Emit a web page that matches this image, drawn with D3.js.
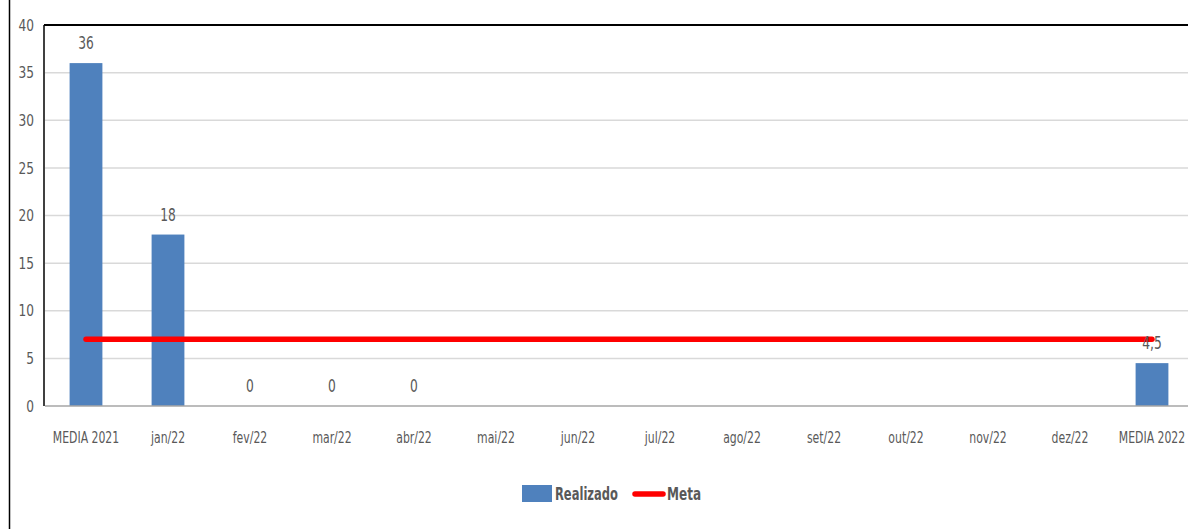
<!DOCTYPE html>
<html><head><meta charset="utf-8">
<script src="https://cdn.jsdelivr.net/npm/d3@7"></script>
<style>
html,body{margin:0;padding:0;background:#fff;}
text{font-family:"DejaVu Sans","Liberation Sans",sans-serif;fill:#595959;}
</style></head>
<body>
<svg id="c" width="1188" height="529"></svg>
<script>
const categories = ["MEDIA 2021","jan/22","fev/22","mar/22","abr/22","mai/22","jun/22","jul/22","ago/22","set/22","out/22","nov/22","dez/22","MEDIA 2022"];
const realizado = [36,18,0,0,0,null,null,null,null,null,null,null,null,4.5];
const meta = [7,7,7,7,7,7,7,7,7,7,7,7,7,7];
const yTicks = [0,5,10,15,20,25,30,35,40];
const seriesNames = ["Realizado","Meta"];

const svg = d3.select("#c");
const pLeft = 45, pRight = 1193, pTop = 25, pBottom = 406;
const x = d3.scaleBand().domain(categories).range([pLeft, pRight]).paddingInner(0.6).paddingOuter(0.3);
const xc = d => x(d) + x.bandwidth()/2;
const y = d3.scaleLinear().domain([0,40]).range([pBottom, pTop]);
const FF = '"DejaVu Sans","Liberation Sans",sans-serif';

function condense(sel, f){
  sel.each(function(){
    const l = this.getComputedTextLength();
    d3.select(this).attr("textLength", l*f).attr("lengthAdjust","spacingAndGlyphs");
  });
}

// outer frame line
svg.append("line").attr("x1",9.5).attr("x2",9.5).attr("y1",0).attr("y2",529).attr("stroke","#000").attr("stroke-width",1.5);

// gridlines
svg.append("g").selectAll("line").data(yTicks.filter(t=>t>0 && t<40)).join("line")
  .attr("x1",pLeft).attr("x2",1188).attr("y1",d=>y(d)).attr("y2",d=>y(d))
  .attr("stroke","#d9d9d9").attr("stroke-width",1.5);

// y axis labels
const yAxis = d3.axisLeft(y).tickValues(yTicks).tickSize(0).tickPadding(11);
const gy = svg.append("g").attr("transform",`translate(${pLeft},0)`).call(yAxis);
gy.select(".domain").remove();
gy.selectAll("text").attr("font-size",16).style("font-family",FF).attr("fill","#595959");
condense(gy.selectAll("text"), 0.76);

// x axis labels
const xAxis = d3.axisBottom(x).tickSize(0).tickPadding(26);
const gx = svg.append("g").attr("transform",`translate(0,${pBottom})`).call(xAxis);
gx.select(".domain").remove();
gx.selectAll("text").attr("font-size",16).style("font-family",FF).attr("fill","#595959");
condense(gx.selectAll("text"), 0.68);

// bars
const data = categories.map((c,i)=>({c, v: realizado[i], m: meta[i]}));
svg.append("g").selectAll("rect").data(data.filter(d=>d.v!==null && d.v>0)).join("rect")
  .attr("x",d=>x(d.c)).attr("width",x.bandwidth())
  .attr("y",d=>y(d.v)).attr("height",d=>y(0)-y(d.v))
  .attr("fill","#4f81bd");

// baseline
svg.append("line").attr("x1",pLeft).attr("x2",1188).attr("y1",pBottom).attr("y2",pBottom).attr("stroke","#a6a6a6").attr("stroke-width",1.5);
// plot border top & left
svg.append("line").attr("x1",pLeft-1).attr("x2",1188).attr("y1",pTop).attr("y2",pTop).attr("stroke","#000").attr("stroke-width",2);
svg.append("line").attr("x1",pLeft-1).attr("x2",pLeft-1).attr("y1",pTop).attr("y2",pBottom).attr("stroke","#000").attr("stroke-width",1.5);

// meta line
const line = d3.line().x(d=>xc(d.c)).y(d=>y(d.m));
svg.append("path").datum(data).attr("d",line).attr("fill","none")
  .attr("stroke","#ff0000").attr("stroke-width",5.5).attr("stroke-linecap","round");

// data labels
const dl = svg.append("g").selectAll("text").data(data.filter(d=>d.v!==null)).join("text")
  .attr("x",d=>xc(d.c)).attr("y",d=>y(d.v)-14)
  .attr("text-anchor","middle").attr("font-size",17)
  .text(d=>String(d.v).replace(".",","));
condense(dl, 0.72);

// legend
const lg = svg.append("g");
lg.append("rect").attr("x",522).attr("y",485).attr("width",30).attr("height",17).attr("fill","#4f81bd");
const t1 = lg.append("text").attr("x",555).attr("y",500).attr("font-size",18).attr("font-weight","bold").text(seriesNames[0]);
lg.append("line").attr("x1",635).attr("x2",663).attr("y1",494).attr("y2",494).attr("stroke","#ff0000").attr("stroke-width",5.5).attr("stroke-linecap","round");
const t2 = lg.append("text").attr("x",667).attr("y",500).attr("font-size",18).attr("font-weight","bold").text(seriesNames[1]);
t1.attr("textLength",63).attr("lengthAdjust","spacingAndGlyphs");
t2.attr("textLength",34).attr("lengthAdjust","spacingAndGlyphs");
</script>
</body></html>
